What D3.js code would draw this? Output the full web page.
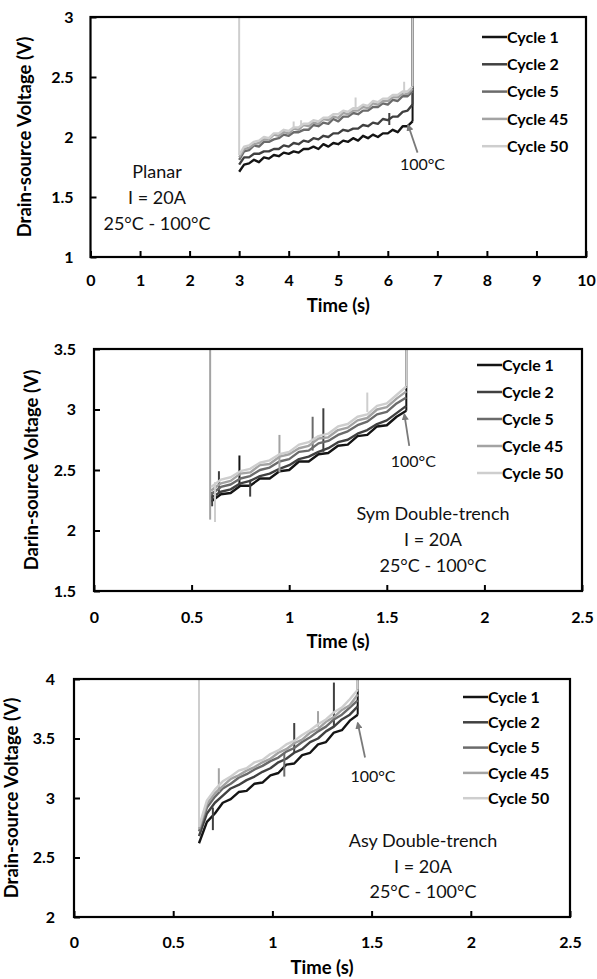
<!DOCTYPE html>
<html>
<head>
<meta charset="utf-8">
<script src="https://cdn.jsdelivr.net/npm/d3@7"></script>
<style>
  body { margin: 0; background: #fff; }
  svg { display: block; font-family: Lato, "Open Sans", sans-serif; }
</style>
</head>
<body>
<svg width="597" height="979"></svg>
<script>
var cycleNames = ["Cycle 1", "Cycle 2", "Cycle 5", "Cycle 45", "Cycle 50"];
var cycleColors = ["#141414", "#404040", "#6b6b6b", "#a3a3a3", "#cecece"];

// Planar, time in s, voltage in V
var planarTime = [3.0, 3.1, 3.2, 3.3, 3.4, 3.5, 3.6, 3.7, 3.8, 3.9, 4.0, 4.1, 4.2, 4.3, 4.4, 4.5, 4.6, 4.7,
  4.8, 4.9, 5.0, 5.1, 5.2, 5.3, 5.4, 5.5, 5.6, 5.7, 5.8, 5.9, 6.0, 6.1, 6.2, 6.3, 6.4, 6.5];
var planarCycle1 = [1.71, 1.77, 1.78, 1.81, 1.79, 1.83, 1.82, 1.85, 1.84, 1.87, 1.86, 1.88, 1.87, 1.90, 1.90, 1.92, 1.90, 1.94,
  1.92, 1.95, 1.94, 1.97, 1.96, 1.99, 1.97, 2.01, 1.99, 2.02, 2.00, 2.03, 2.03, 2.06, 2.04, 2.09, 2.09, 2.13];
var planarCycle2 = [1.77, 1.83, 1.83, 1.86, 1.86, 1.88, 1.88, 1.90, 1.90, 1.93, 1.92, 1.95, 1.94, 1.97, 1.96, 1.99, 1.98, 2.01,
  2.00, 2.03, 2.03, 2.06, 2.05, 2.07, 2.07, 2.10, 2.09, 2.12, 2.11, 2.15, 2.14, 2.17, 2.17, 2.21, 2.22, 2.27];
var planarCycle5 = [1.81, 1.88, 1.89, 1.93, 1.92, 1.96, 1.96, 1.98, 1.99, 2.02, 2.01, 2.04, 2.04, 2.06, 2.06, 2.10, 2.09, 2.12,
  2.11, 2.15, 2.13, 2.17, 2.17, 2.20, 2.19, 2.22, 2.22, 2.25, 2.25, 2.28, 2.27, 2.31, 2.30, 2.34, 2.34, 2.38];
var planarCycle45 = [1.83, 1.90, 1.91, 1.94, 1.95, 1.98, 1.98, 2.02, 2.01, 2.04, 2.03, 2.07, 2.06, 2.10, 2.09, 2.12, 2.11, 2.15,
  2.14, 2.17, 2.16, 2.20, 2.19, 2.22, 2.22, 2.25, 2.24, 2.28, 2.27, 2.30, 2.30, 2.33, 2.33, 2.36, 2.36, 2.40];
var planarCycle50 = [1.85, 1.92, 1.93, 1.96, 1.97, 2.00, 1.99, 2.03, 2.03, 2.06, 2.05, 2.08, 2.08, 2.11, 2.11, 2.14, 2.13, 2.16,
  2.16, 2.19, 2.19, 2.22, 2.21, 2.24, 2.24, 2.27, 2.26, 2.30, 2.29, 2.32, 2.32, 2.35, 2.35, 2.38, 2.38, 2.42];
// [cycle index, time, from V, to V]
var planarSpikes = [[0, 6.5, 2.13, 3.0], [1, 6.03, 2.20, 2.10], [1, 6.5, 2.27, 3.0],
  [4, 3.0, 3.0, 1.85], [4, 4.1, 2.07, 2.13], [4, 4.25, 2.09, 2.14], [4, 5.35, 2.23, 2.33],
  [4, 6.33, 2.36, 2.46], [4, 6.5, 2.42, 3.0]];
var planarXTicks = [0, 1, 2, 3, 4, 5, 6, 7, 8, 9, 10];
var planarYTicks = [1, 1.5, 2, 2.5, 3];

// Symmetric double-trench
var symTime = [0.60, 0.65, 0.70, 0.75, 0.80, 0.85, 0.90, 0.95, 1.00, 1.05, 1.10,
  1.15, 1.20, 1.25, 1.30, 1.35, 1.40, 1.45, 1.50, 1.55, 1.60];
var symCycle1 = [2.24, 2.30, 2.31, 2.37, 2.37, 2.43, 2.43, 2.49, 2.50, 2.57, 2.57,
  2.63, 2.64, 2.70, 2.71, 2.78, 2.79, 2.86, 2.87, 2.94, 2.99];
var symCycle2 = [2.27, 2.32, 2.34, 2.39, 2.41, 2.45, 2.47, 2.51, 2.54, 2.59, 2.61,
  2.65, 2.68, 2.73, 2.75, 2.80, 2.83, 2.88, 2.91, 2.97, 3.03];
var symCycle5 = [2.30, 2.36, 2.38, 2.43, 2.45, 2.50, 2.52, 2.57, 2.59, 2.65, 2.66,
  2.72, 2.74, 2.79, 2.82, 2.87, 2.90, 2.96, 2.98, 3.05, 3.10];
var symCycle45 = [2.33, 2.39, 2.41, 2.47, 2.48, 2.54, 2.55, 2.61, 2.63, 2.68, 2.70,
  2.76, 2.77, 2.83, 2.85, 2.91, 2.93, 3.00, 3.02, 3.09, 3.15];
var symCycle50 = [2.36, 2.42, 2.44, 2.49, 2.51, 2.56, 2.58, 2.63, 2.65, 2.71, 2.73,
  2.78, 2.80, 2.86, 2.88, 2.94, 2.96, 3.03, 3.05, 3.12, 3.19];
var symSpikes = [[0, 0.745, 2.36, 2.62], [0, 1.6, 2.99, 3.5], [1, 0.605, 2.32, 2.20], [1, 0.64, 2.31, 2.49],
  [1, 0.80, 2.42, 2.28], [1, 1.175, 2.65, 3.01], [2, 1.12, 2.66, 2.94], [3, 0.595, 3.5, 2.09],
  [3, 0.95, 2.48, 2.79], [4, 0.62, 2.40, 2.07], [4, 1.40, 2.98, 3.14], [4, 1.6, 3.19, 3.5]];
var symXTicks = [0, 0.5, 1, 1.5, 2, 2.5];
var symYTicks = [1.5, 2, 2.5, 3, 3.5];

// Asymmetric double-trench
var asyTime = [0.63, 0.67, 0.71, 0.75, 0.79, 0.83, 0.87, 0.91, 0.95, 0.99, 1.03,
  1.07, 1.11, 1.15, 1.19, 1.23, 1.27, 1.31, 1.35, 1.39, 1.43];
var asyCycle1 = [2.62, 2.80, 2.87, 2.96, 2.99, 3.05, 3.06, 3.12, 3.13, 3.19, 3.21,
  3.28, 3.29, 3.36, 3.38, 3.45, 3.47, 3.55, 3.57, 3.65, 3.70];
var asyCycle2 = [2.68, 2.87, 2.96, 3.02, 3.08, 3.11, 3.15, 3.18, 3.22, 3.25, 3.30,
  3.33, 3.38, 3.41, 3.47, 3.50, 3.56, 3.60, 3.66, 3.70, 3.77];
var asyCycle5 = [2.72, 2.92, 3.01, 3.08, 3.12, 3.17, 3.20, 3.24, 3.27, 3.31, 3.34,
  3.39, 3.42, 3.47, 3.51, 3.56, 3.60, 3.66, 3.70, 3.76, 3.82];
var asyCycle45 = [2.74, 2.95, 3.04, 3.10, 3.16, 3.19, 3.23, 3.26, 3.30, 3.33, 3.38,
  3.41, 3.46, 3.49, 3.55, 3.58, 3.64, 3.68, 3.74, 3.78, 3.87];
var asyCycle50 = [2.76, 2.98, 3.07, 3.14, 3.18, 3.23, 3.25, 3.30, 3.32, 3.37, 3.40,
  3.45, 3.48, 3.53, 3.57, 3.62, 3.66, 3.72, 3.76, 3.83, 3.91];
var asySpikes = [[0, 1.43, 3.70, 4.0], [1, 0.70, 2.92, 2.73], [1, 1.11, 3.38, 3.63], [1, 1.31, 3.60, 3.97],
  [2, 1.06, 3.38, 3.18], [3, 0.73, 3.05, 3.25], [3, 1.23, 3.60, 3.73],
  [4, 0.63, 4.0, 2.76], [4, 1.43, 3.91, 4.0]];
var asyXTicks = [0, 0.5, 1, 1.5, 2, 2.5];
var asyYTicks = [2, 2.5, 3, 3.5, 4];

var svg = d3.select("svg");

function drawPanel(p, id) {
  var x = d3.scaleLinear().domain([p.xTicks[0], p.xTicks[p.xTicks.length - 1]]).range([p.left, p.right]);
  var y = d3.scaleLinear().domain([p.yTicks[0], p.yTicks[p.yTicks.length - 1]]).range([p.bottom, p.top]);
  var g = svg.append("g");

  g.append("clipPath").attr("id", "clip" + id).append("rect")
    .attr("x", p.left).attr("y", p.top)
    .attr("width", p.right - p.left).attr("height", p.bottom - p.top);

  var plot = g.append("g").attr("clip-path", "url(#clip" + id + ")");
  var line = d3.line().x(function (d) { return x(d[0]); }).y(function (d) { return y(d[1]); });

  p.series.forEach(function (vals, i) {
    var pts = vals.map(function (v, k) { return [p.time[k], v]; });
    plot.append("path").attr("d", line(pts)).attr("fill", "none")
      .attr("stroke", cycleColors[i]).attr("stroke-width", 2.4).attr("stroke-linejoin", "round");
    p.spikes.filter(function (s) { return s[0] == i; }).forEach(function (s) {
      plot.append("line").attr("x1", x(s[1])).attr("x2", x(s[1]))
        .attr("y1", y(s[2])).attr("y2", y(s[3]))
        .attr("stroke", cycleColors[i]).attr("stroke-width", 2);
    });
  });

  // axes with inside ticks
  var xa = g.append("g").attr("transform", "translate(0," + p.bottom + ")")
    .call(d3.axisBottom(x).tickValues(p.xTicks).tickFormat(function (d) { return d; })
      .tickSizeInner(-6).tickSizeOuter(0).tickPadding(p.xPad));
  var ya = g.append("g").attr("transform", "translate(" + p.left + ",0)")
    .call(d3.axisLeft(y).tickValues(p.yTicks).tickFormat(function (d) { return d; })
      .tickSizeInner(-6).tickSizeOuter(0).tickPadding(p.yPad));
  [xa, ya].forEach(function (a) {
    a.select(".domain").remove();
    a.selectAll("line").attr("stroke", "#000").attr("stroke-width", 2);
    a.selectAll("text").attr("fill", "#000").attr("font-family", "Lato, sans-serif")
      .attr("font-size", 16).attr("font-weight", "bold");
  });

  g.append("rect").attr("x", p.left).attr("y", p.top)
    .attr("width", p.right - p.left).attr("height", p.bottom - p.top)
    .attr("fill", "none").attr("stroke", "#000").attr("stroke-width", 2.2);

  g.append("text").attr("x", (p.left + p.right) / 2).attr("y", p.xTitleY)
    .attr("text-anchor", "middle").attr("dy", "0.35em")
    .attr("font-size", 18.5).attr("font-weight", "bold").text("Time (s)");
  g.append("text").attr("transform", "translate(" + p.yTitleX + "," + (p.top + p.bottom) / 2 + ") rotate(-90)")
    .attr("text-anchor", "middle").attr("dy", "0.35em")
    .attr("font-size", 18.5).attr("font-weight", "bold").text(p.yTitle);

  // legend
  var leg = g.append("g").selectAll("g").data(cycleNames).enter().append("g")
    .attr("transform", function (d, i) { return "translate(" + p.legX + "," + (p.legY + i * p.legDy) + ")"; });
  leg.append("line").attr("x1", 0).attr("x2", 25).attr("stroke-width", 2.5)
    .attr("stroke", function (d, i) { return cycleColors[i]; });
  leg.append("text").attr("x", 25).attr("dy", "0.35em").attr("font-size", 16)
    .attr("font-weight", "bold").text(function (d) { return d; });

  // device note
  g.append("g").selectAll("text").data(p.note).enter().append("text")
    .attr("x", p.noteX).attr("y", function (d, i) { return p.noteY + i * p.noteDy; })
    .attr("text-anchor", "middle").attr("dy", "0.35em").attr("font-size", 18)
    .attr("fill", "#111").text(function (d) { return d; });

  // 100°C arrow
  g.append("line").attr("x1", x(p.arrowTail[0])).attr("y1", y(p.arrowTail[1]))
    .attr("x2", x(p.arrowTip[0])).attr("y2", y(p.arrowTip[1]))
    .attr("stroke", "#7a7a7a").attr("stroke-width", 1.8).attr("marker-end", "url(#arrowHead)");
  g.append("text").attr("x", x(p.labelAt[0])).attr("y", y(p.labelAt[1]))
    .attr("text-anchor", "middle").attr("dy", "0.35em").attr("font-size", 16)
    .attr("fill", "#111").text("100°C");
}

svg.append("defs").append("marker").attr("id", "arrowHead")
  .attr("viewBox", "0 0 10 10").attr("refX", 8).attr("refY", 5)
  .attr("markerWidth", 4).attr("markerHeight", 4).attr("orient", "auto")
  .append("path").attr("d", "M0,0L10,5L0,10z").attr("fill", "#7a7a7a");

drawPanel({
  left: 90.5, right: 586, top: 17, bottom: 257,
  xTicks: planarXTicks, yTicks: planarYTicks, time: planarTime,
  series: [planarCycle1, planarCycle2, planarCycle5, planarCycle45, planarCycle50],
  spikes: planarSpikes, xPad: 18, yPad: 17, xTitleY: 306, yTitleX: 25,
  yTitle: "Drain-source Voltage (V)",
  legX: 482, legY: 37, legDy: 27.3,
  note: ["Planar", "I = 20A", "25°C - 100°C"], noteX: 157, noteY: 172, noteDy: 26,
  arrowTip: [6.41, 2.10], arrowTail: [6.6, 1.87], labelAt: [6.7, 1.775]
}, 1);

drawPanel({
  left: 94, right: 582, top: 349, bottom: 591,
  xTicks: symXTicks, yTicks: symYTicks, time: symTime,
  series: [symCycle1, symCycle2, symCycle5, symCycle45, symCycle50],
  spikes: symSpikes, xPad: 21, yPad: 18, xTitleY: 642, yTitleX: 32,
  yTitle: "Darin-source Voltage (V)",
  legX: 477, legY: 365, legDy: 27,
  note: ["Sym Double-trench", "I = 20A", "25°C - 100°C"], noteX: 433, noteY: 514, noteDy: 26,
  arrowTip: [1.59, 2.96], arrowTail: [1.615, 2.70], labelAt: [1.636, 2.57]
}, 2);

drawPanel({
  left: 74, right: 570, top: 679, bottom: 917,
  xTicks: asyXTicks, yTicks: asyYTicks, time: asyTime,
  series: [asyCycle1, asyCycle2, asyCycle5, asyCycle45, asyCycle50],
  spikes: asySpikes, xPad: 20, yPad: 19, xTitleY: 968, yTitleX: 12,
  yTitle: "Drain-source Voltage (V)",
  legX: 463, legY: 697, legDy: 25.3,
  note: ["Asy Double-trench", "I = 20A", "25°C - 100°C"], noteX: 423, noteY: 841, noteDy: 25.5,
  arrowTip: [1.43, 3.63], arrowTail: [1.467, 3.34], labelAt: [1.507, 3.18]
}, 3);
</script>
</body>
</html>
